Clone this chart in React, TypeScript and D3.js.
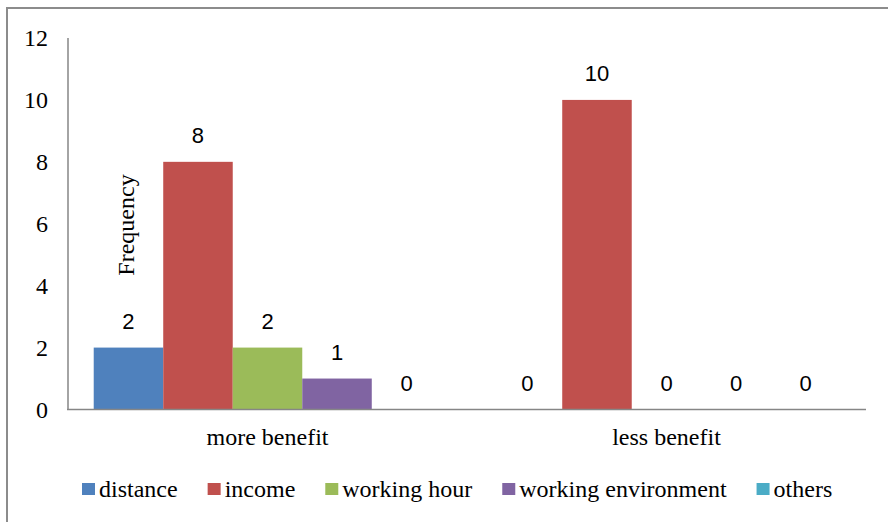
import * as d3 from 'd3';
import React, { useEffect, useRef } from 'react';

const categories = ['more benefit', 'less benefit'];
const seriesNames = ['distance', 'income', 'working hour', 'working environment', 'others'];
const distance = [2, 0];
const income = [8, 10];
const workingHour = [2, 0];
const workingEnvironment = [1, 0];
const others = [0, 0];
const colors = ['#4F81BD', '#C0504D', '#9BBB59', '#8064A2', '#4BACC6'];
const yTicks = [0, 2, 4, 6, 8, 10, 12];

const App = () => {
  const svgRef = useRef(null);

  useEffect(() => {
    const svg = d3.select(svgRef.current);
    svg.selectAll('*').remove();

    const values = [distance, income, workingHour, workingEnvironment, others];
    const serif = '"Liberation Serif", "Times New Roman", serif';
    const sans = '"Liberation Sans", Arial, sans-serif';

    // outer frame (only left and top visible)
    svg.append('line').attr('x1', 7).attr('x2', 7).attr('y1', 7).attr('y2', 522)
      .attr('stroke', '#8c8c8c').attr('stroke-width', 2);
    svg.append('line').attr('x1', 6).attr('x2', 888).attr('y1', 8).attr('y2', 8)
      .attr('stroke', '#8c8c8c').attr('stroke-width', 2);

    const x0 = d3.scaleBand().domain(categories).range([68, 866]);
    const x1 = d3.scaleBand().domain(seriesNames).range([0, x0.bandwidth()])
      .paddingInner(0).paddingOuter(0.37);
    const y = d3.scaleLinear().domain([0, 12]).range([409.5, 38]);

    // y tick labels
    svg.append('g').selectAll('text').data(yTicks).enter().append('text')
      .attr('x', 48).attr('y', (d) => y(d)).attr('dy', '0.35em')
      .attr('text-anchor', 'end').attr('font-family', serif).attr('font-size', 24)
      .attr('fill', '#000').text((d) => d);

    // bars
    seriesNames.forEach((s, si) => {
      const g = svg.append('g');
      g.selectAll('rect').data(categories).enter().append('rect')
        .attr('x', (c) => x0(c) + x1(s))
        .attr('width', x1.bandwidth())
        .attr('y', (c, ci) => y(values[si][ci]))
        .attr('height', (c, ci) => y(0) - y(values[si][ci]))
        .attr('fill', colors[si]);
      g.selectAll('text').data(categories).enter().append('text')
        .attr('x', (c) => x0(c) + x1(s) + x1.bandwidth() / 2)
        .attr('y', (c, ci) => y(values[si][ci]) - 19)
        .attr('text-anchor', 'middle').attr('font-family', sans).attr('font-size', 22)
        .attr('fill', '#000').text((c, ci) => values[si][ci]);
    });

    // axes lines
    svg.append('line').attr('x1', 68).attr('x2', 68).attr('y1', 38).attr('y2', y(0))
      .attr('stroke', '#868686').attr('stroke-width', 1.5);
    svg.append('line').attr('x1', 67).attr('x2', 866).attr('y1', y(0)).attr('y2', y(0))
      .attr('stroke', '#868686').attr('stroke-width', 1.5);

    // category labels
    svg.append('g').selectAll('text').data(categories).enter().append('text')
      .attr('x', (c) => x0(c) + x0.bandwidth() / 2).attr('y', 445)
      .attr('text-anchor', 'middle').attr('font-family', serif).attr('font-size', 24)
      .attr('fill', '#000').text((c) => c);

    // y axis title
    svg.append('text').attr('transform', 'translate(134,225) rotate(-90)')
      .attr('text-anchor', 'middle').attr('font-family', serif).attr('font-size', 24)
      .attr('fill', '#000').text('Frequency');

    // legend
    const legend = svg.append('g');
    let lx = 82;
    seriesNames.forEach((s, si) => {
      legend.append('rect').attr('x', lx).attr('y', 483).attr('width', 13).attr('height', 12)
        .attr('fill', colors[si]);
      const t = legend.append('text').attr('x', lx + 17).attr('y', 497)
        .attr('font-family', serif).attr('font-size', 24).attr('fill', '#000').text(s);
      const w = (t.node() as SVGTextElement).getComputedTextLength();
      lx = lx + 17 + w + 30;
    });
  }, []);

  return (
    <svg ref={svgRef} width={888} height={522}
      style={{ position: 'absolute', left: 0, top: 0, background: '#fff' }} />
  );
};

export default App;
